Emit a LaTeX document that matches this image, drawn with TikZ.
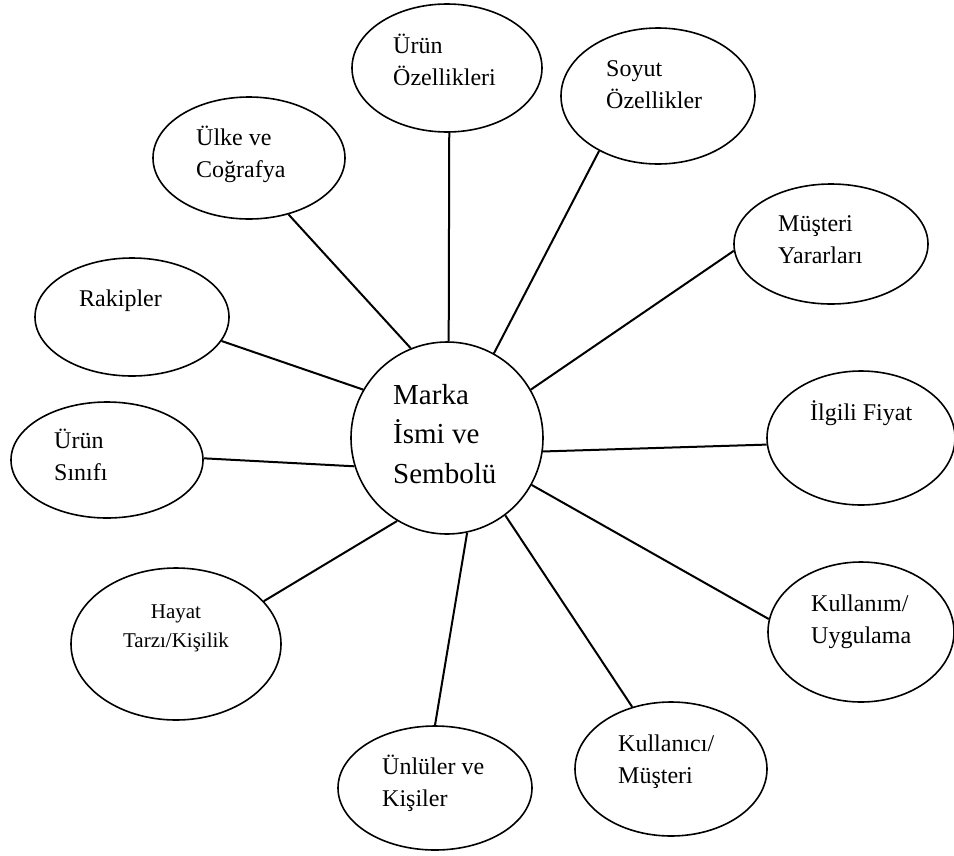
\documentclass[tikz,border=0pt]{standalone}
\usepackage{fontspec}
\setmainfont{Liberation Serif}
\usetikzlibrary{shapes.geometric}

\begin{document}
\begin{tikzpicture}[x=1pt,y=-1pt,
  bubble/.style={draw, ellipse, line width=1.6pt, inner sep=0pt},
  hub/.style={draw, circle, line width=1.6pt, inner sep=0pt, minimum size=192pt},
  spoke/.style={line width=2pt},
  lbl/.style={anchor=base west, align=left, inner sep=0pt,
    font=\fontsize{24}{32}\selectfont}]

  \useasboundingbox (0,0) rectangle (954,855);

  % centre (text placed by its last baseline)
  \node[hub] (brand) at (447,438) {};
  \node[lbl, font=\fontsize{29}{39.5}\selectfont] (brandlbl) at (393,483)
    {Marka\\İsmi ve\\Sembolü};

  % bubbles round the centre
  \node[bubble, minimum width=190pt, minimum height=128pt] (urun) at (447,68) {};
  \node[bubble, minimum width=194pt, minimum height=136pt] (soyut) at (658,96) {};
  \node[bubble, minimum width=192pt, minimum height=122pt] (ulke) at (249,158) {};
  \node[bubble, minimum width=194pt, minimum height=120pt] (musteri) at (831,244) {};
  \node[bubble, minimum width=194pt, minimum height=118pt] (rakip) at (132,317) {};
  \node[bubble, minimum width=188pt, minimum height=134pt] (fiyat) at (861,438) {};
  \node[bubble, minimum width=192pt, minimum height=116pt] (sinif) at (107,460) {};
  \node[bubble, minimum width=210pt, minimum height=152pt] (hayat) at (176,644) {};
  \node[bubble, minimum width=186pt, minimum height=140pt] (kullanim) at (861,632) {};
  \node[bubble, minimum width=192pt, minimum height=134pt] (kullanici) at (671,769) {};
  \node[bubble, minimum width=194pt, minimum height=124pt] (unlu) at (435,788) {};

  % texts
  \node[lbl] (urunlbl) at (393,85) {Ürün\\Özellikleri};
  \node[lbl] (soyutlbl) at (606,108) {Soyut\\Özellikler};
  \node[lbl] (ulkelbl) at (196,177) {Ülke ve\\Coğrafya};
  \node[lbl] (musterilbl) at (778,263) {Müşteri\\Yararları};
  \node[lbl] (rakiplbl) at (79,306) {Rakipler};
  \node[lbl] (fiyatlbl) at (810,420) {İlgili Fiyat};
  \node[lbl] (siniflbl) at (54,480) {Ürün\\Sınıfı};
  \node[lbl, anchor=base, align=center, font=\fontsize{21}{29}\selectfont]
    (hayatlbl) at (176,647) {Hayat\\Tarzı/Kişilik};
  \node[lbl] (kullanimlbl) at (811,643) {Kullanım/\\Uygulama};
  \node[lbl] (kullanicilbl) at (618,783) {Kullanıcı/\\Müşteri};
  \node[lbl] (unlulbl) at (382,806) {Ünlüler ve\\Kişiler};

  % spokes
  \draw[spoke] (urun.-88) -- (brand.89);
  \draw[spoke] (soyut.-137.5) -- (brand.61.6);
  \draw[spoke] (ulke.-55.6) -- (brand.112.4);
  \draw[spoke] (musteri.-176.5) -- (brand.30);
  \draw[spoke] (rakip.-15.5) -- (brand.150.3);
  \draw[spoke] (fiyat.-176.3) -- (brand.-8.3);
  \draw[spoke] (sinif.1.8) -- (brand.-163.6);
  \draw[spoke] (hayat.26.8) -- (brand.-121);
  \draw[spoke] (kullanim.172) -- (brand.-29);
  \draw[spoke] (kullanici.122) -- (brand.-53.8);
  \draw[spoke] (unlu.90) -- (brand.-78);

\end{tikzpicture}
\end{document}
